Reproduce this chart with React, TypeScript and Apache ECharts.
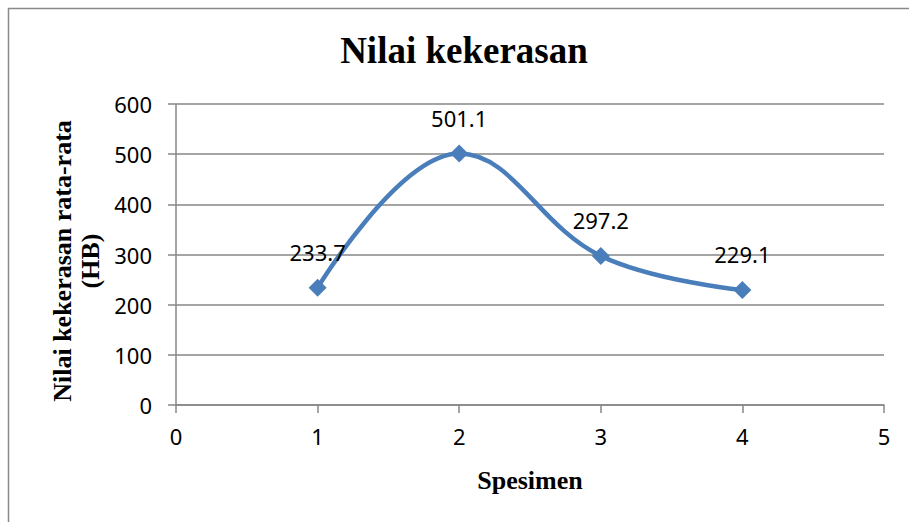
import React, { useEffect, useRef } from "react";
import * as echarts from "echarts";

const specimens = [1, 2, 3, 4];
const hardness = [233.7, 501.1, 297.2, 229.1];
const titleText = "Nilai kekerasan";
const xName = "Spesimen";
const yNameLines = ["Nilai kekerasan rata-rata", "(HB)"];

export default function App() {
  const ref = useRef<HTMLDivElement>(null);
  useEffect(() => {
    if (!ref.current) return;
    const chart = echarts.init(ref.current, null, { renderer: "svg" });
    const grey = "#878787";
    const tickFont = { fontFamily: "Noto Sans", fontSize: 22, color: "#000" };
    chart.setOption({
      animation: false,
      backgroundColor: "#fff",
      title: {
        text: titleText,
        left: 459,
        top: 27,
        textAlign: "center",
        textStyle: { fontFamily: "Liberation Serif", fontWeight: "bold", fontSize: 37, color: "#000" },
      },
      graphic: [
        {
          type: "rect",
          shape: { x: 8.5, y: 8.5, width: 1000, height: 1000 },
          style: { fill: "none", stroke: "#8a8a8a", lineWidth: 1.5 },
          silent: true,
        },
        {
          type: "text",
          x: 48,
          y: 261,
          rotation: Math.PI / 2,
          style: {
            text: yNameLines.join("\n"),
            fontFamily: "Liberation Serif",
            fontWeight: "bold",
            fontSize: 26,
            lineHeight: 28,
            fill: "#000",
            align: "center",
            verticalAlign: "top",
          },
        },
        {
          type: "text",
          x: 530,
          y: 480,
          style: {
            text: xName,
            fontFamily: "Liberation Serif",
            fontWeight: "bold",
            fontSize: 26,
            fill: "#000",
            align: "center",
            verticalAlign: "middle",
          },
        },
      ],
      grid: { left: 176, right: 25, top: 104, bottom: 117, containLabel: false },
      xAxis: {
        type: "value",
        min: 0,
        max: 5,
        interval: 1,
        axisLine: { show: true, onZero: false, lineStyle: { color: grey, width: 1.5 } },
        axisTick: { show: true, length: 8, lineStyle: { color: grey, width: 1.5 } },
        axisLabel: { ...tickFont, margin: 20 },
        splitLine: { show: false },
      },
      yAxis: {
        type: "value",
        min: 0,
        max: 600,
        interval: 100,
        axisLine: { show: true, lineStyle: { color: grey, width: 1.5 } },
        axisTick: { show: true, length: 8, lineStyle: { color: grey, width: 1.5 } },
        axisLabel: { ...tickFont, margin: 24 },
        splitLine: { show: true, lineStyle: { color: grey, width: 1.5 } },
      },
      series: [
        {
          type: "line",
          data: specimens.map((s, i) => [s, hardness[i]]),
          smooth: 0.4,
          symbol: "diamond",
          symbolSize: 18,
          lineStyle: { color: "#4A7EBB", width: 4.5 },
          itemStyle: { color: "#4A7EBB" },
          label: {
            show: true,
            position: "top",
            distance: 16,
            fontFamily: "Noto Sans",
            fontSize: 22,
            color: "#000",
            formatter: (p: any) => String(p.value[1]),
          },
        },
      ],
    });
    return () => chart.dispose();
  }, []);
  return (
    <div
      ref={ref}
      style={{ position: "fixed", left: 0, top: 0, width: 909, height: 522 }}
    />
  );
}
